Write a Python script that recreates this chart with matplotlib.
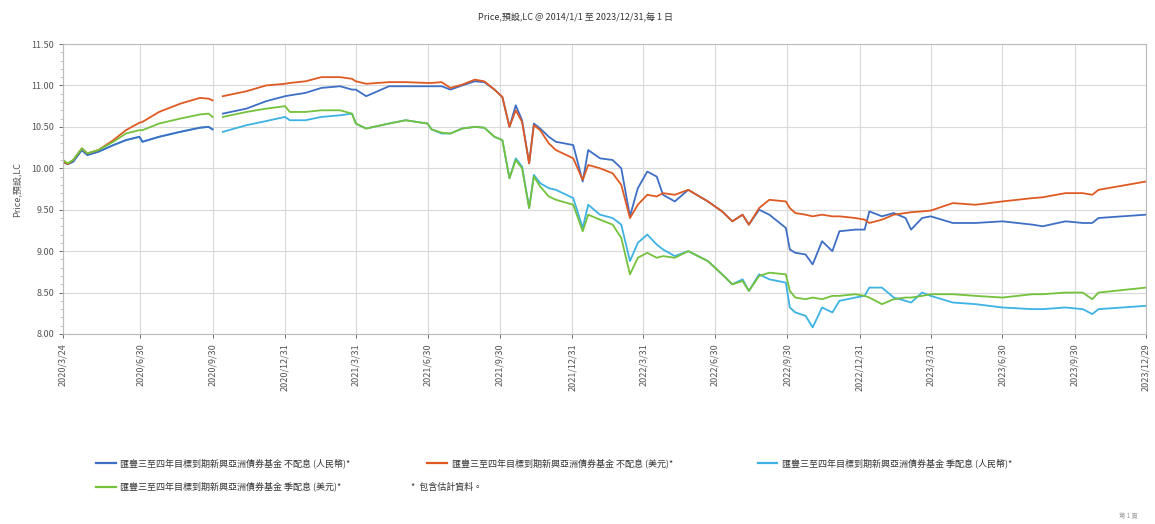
import pandas as pd
import numpy as np
import matplotlib
matplotlib.use('Agg')
import matplotlib.pyplot as plt
import matplotlib.ticker as ticker
from matplotlib.lines import Line2D

plt.rcParams['font.family'] = ['Noto Sans CJK TC', 'DejaVu Sans']

nan = np.nan

dates = pd.to_datetime([
    '2020-03-24', '2020-03-30', '2020-04-06', '2020-04-17', '2020-04-24', '2020-05-08',
    '2020-05-27', '2020-06-12', '2020-06-29', '2020-07-03', '2020-07-24', '2020-08-20',
    '2020-09-14', '2020-09-25', '2020-09-30', '2020-10-06', '2020-10-13', '2020-11-12',
    '2020-12-07', '2020-12-31', '2021-01-06', '2021-01-26', '2021-02-15', '2021-03-11',
    '2021-03-26', '2021-03-31', '2021-04-13', '2021-05-12', '2021-06-02', '2021-06-30',
    '2021-07-05', '2021-07-18', '2021-07-29', '2021-08-13', '2021-08-29', '2021-09-10',
    '2021-09-23', '2021-10-03', '2021-10-12', '2021-10-20', '2021-10-28', '2021-11-06',
    '2021-11-12', '2021-11-20', '2021-12-01', '2021-12-10', '2022-01-01', '2022-01-13',
    '2022-01-20', '2022-02-04', '2022-02-20', '2022-03-03', '2022-03-14', '2022-03-24',
    '2022-04-05', '2022-04-17', '2022-04-25', '2022-05-10', '2022-05-27', '2022-06-21',
    '2022-07-09', '2022-07-22', '2022-08-04', '2022-08-12', '2022-08-25', '2022-09-07',
    '2022-09-28', '2022-10-03', '2022-10-10', '2022-10-23', '2022-11-01', '2022-11-13',
    '2022-11-26', '2022-12-05', '2022-12-25', '2023-01-06', '2023-01-12', '2023-01-28',
    '2023-02-12', '2023-02-27', '2023-03-06', '2023-03-20', '2023-03-31', '2023-04-28',
    '2023-05-27', '2023-06-30', '2023-08-07', '2023-08-20', '2023-09-18', '2023-10-10',
    '2023-10-22', '2023-10-30', '2023-12-29',
])

# 不配息 (人民幣)
acc_cny = [
    10.08, 10.05, 10.08, 10.22, 10.16, 10.20, 10.28, 10.34, 10.38, 10.32, 10.38, 10.44,
    10.49, 10.50, 10.47, nan, 10.66, 10.72, 10.81, 10.87, 10.88, 10.91, 10.97, 10.99,
    10.95, 10.95, 10.87, 10.99, 10.99, 10.99, 10.99, 10.99, 10.95, 11.00, 11.05, 11.04,
    10.95, 10.86, 10.50, 10.76, 10.58, 10.06, 10.54, 10.48, 10.38, 10.32, 10.28, 9.84,
    10.22, 10.12, 10.10, 10.00, 9.42, 9.76, 9.96, 9.90, 9.68, 9.60, 9.74, 9.60,
    9.48, 9.36, 9.44, 9.32, 9.50, 9.44, 9.28, 9.02, 8.98, 8.96, 8.84, 9.12,
    9.00, 9.24, 9.26, 9.26, 9.48, 9.42, 9.46, 9.40, 9.26, 9.40, 9.42, 9.34,
    9.34, 9.36, 9.32, 9.30, 9.36, 9.34, 9.34, 9.40, 9.44,
]

# 不配息 (美元)
acc_usd = [
    10.08, 10.05, 10.10, 10.24, 10.18, 10.22, 10.34, 10.46, 10.55, 10.56, 10.68, 10.78,
    10.85, 10.84, 10.82, nan, 10.87, 10.93, 11.00, 11.02, 11.03, 11.05, 11.10, 11.10,
    11.08, 11.05, 11.02, 11.04, 11.04, 11.03, 11.03, 11.04, 10.97, 11.01, 11.07, 11.05,
    10.95, 10.86, 10.50, 10.70, 10.56, 10.06, 10.52, 10.46, 10.30, 10.22, 10.12, 9.86,
    10.04, 10.00, 9.94, 9.80, 9.40, 9.56, 9.68, 9.66, 9.70, 9.68, 9.74, 9.60,
    9.48, 9.36, 9.44, 9.32, 9.52, 9.62, 9.60, 9.52, 9.46, 9.44, 9.42, 9.44,
    9.42, 9.42, 9.40, 9.38, 9.34, 9.38, 9.44, 9.46, 9.47, 9.48, 9.49, 9.58,
    9.56, 9.60, 9.64, 9.65, 9.70, 9.70, 9.68, 9.74, 9.84,
]

# 季配息 (人民幣)
dis_cny = [
    10.08, 10.05, 10.08, 10.22, 10.16, 10.20, 10.28, 10.34, 10.38, 10.32, 10.38, 10.44,
    10.49, 10.50, 10.47, nan, 10.44, 10.52, 10.57, 10.62, 10.58, 10.58, 10.62, 10.64,
    10.66, 10.54, 10.48, 10.54, 10.58, 10.54, 10.47, 10.42, 10.42, 10.48, 10.50, 10.49,
    10.38, 10.34, 9.88, 10.12, 10.02, 9.52, 9.92, 9.82, 9.76, 9.74, 9.64, 9.28,
    9.56, 9.44, 9.40, 9.32, 8.88, 9.10, 9.20, 9.08, 9.02, 8.94, 9.00, 8.88,
    8.72, 8.60, 8.66, 8.52, 8.72, 8.66, 8.62, 8.32, 8.26, 8.22, 8.08, 8.32,
    8.26, 8.40, 8.44, 8.46, 8.56, 8.56, 8.44, 8.40, 8.38, 8.50, 8.46, 8.38,
    8.36, 8.32, 8.30, 8.30, 8.32, 8.30, 8.24, 8.30, 8.34,
]

# 季配息 (美元)
dis_usd = [
    10.10, 10.06, 10.10, 10.24, 10.18, 10.22, 10.32, 10.42, 10.46, 10.46, 10.54, 10.60,
    10.65, 10.66, 10.62, nan, 10.62, 10.68, 10.72, 10.75, 10.68, 10.68, 10.70, 10.70,
    10.66, 10.54, 10.48, 10.54, 10.58, 10.54, 10.47, 10.43, 10.42, 10.48, 10.50, 10.49,
    10.38, 10.34, 9.88, 10.10, 10.00, 9.52, 9.90, 9.78, 9.66, 9.62, 9.56, 9.24,
    9.44, 9.38, 9.32, 9.16, 8.72, 8.92, 8.98, 8.92, 8.94, 8.92, 9.00, 8.88,
    8.72, 8.60, 8.64, 8.52, 8.70, 8.74, 8.72, 8.52, 8.44, 8.42, 8.44, 8.42,
    8.46, 8.46, 8.48, 8.46, 8.44, 8.36, 8.42, 8.44, 8.44, 8.46, 8.48, 8.48,
    8.46, 8.44, 8.48, 8.48, 8.50, 8.50, 8.42, 8.50, 8.56,
]

fund = '匯豐三至四年目標到期新興亞洲債券基金'
labels = [fund + ' 不配息 (人民幣)*', fund + ' 不配息 (美元)*',
          fund + ' 季配息 (人民幣)*', fund + ' 季配息 (美元)*']
colors = ['#3E6FC4', '#DF5A22', '#3DB2E3', '#74C23C']

tick_dates = ['2020/3/24', '2020/6/30', '2020/9/30', '2020/12/31', '2021/3/31', '2021/6/30',
              '2021/9/30', '2021/12/31', '2022/3/31', '2022/6/30', '2022/9/30', '2022/12/31',
              '2023/3/31', '2023/6/30', '2023/9/30', '2023/12/29']

fig = plt.figure(figsize=(11.55, 5.24), dpi=100)
ax = fig.add_axes([0.0545, 0.3626, 0.9375, 0.5534])

# 人民幣季配息 drawn first so the 不配息 line sits on top where they overlap
for vals, c in [(dis_cny, colors[2]), (acc_cny, colors[0]), (acc_usd, colors[1]), (dis_usd, colors[3])]:
    ax.plot(dates, vals, color=c, lw=1.3)

ax.set_ylim(8.0, 11.5)
ax.set_xlim(pd.Timestamp('2020-03-24'), pd.Timestamp('2023-12-29'))
ax.yaxis.set_major_locator(ticker.MultipleLocator(0.5))
ax.yaxis.set_minor_locator(ticker.MultipleLocator(0.1))
ax.yaxis.set_major_formatter(ticker.FormatStrFormatter('%.2f'))
ticks = pd.to_datetime(tick_dates, format='%Y/%m/%d')
ax.set_xticks(ticks)
ax.set_xticklabels(tick_dates, rotation=90)
ax.tick_params(axis='both', labelsize=6.5, colors='#555555', length=3, width=0.6)
ax.tick_params(axis='y', which='minor', length=2, width=0.5, colors='#aaaaaa')
ax.grid(True, color='#d9d9d9', lw=0.8)
for s in ax.spines.values():
    s.set_color('#bbbbbb')
    s.set_linewidth(0.8)
ax.set_ylabel('Price,預設,LC', fontsize=6.5, color='#555555', labelpad=6)

fig.text(0.498, 0.967, 'Price,預設,LC @ 2014/1/1 至 2023/12/31,每 1 日',
         ha='center', va='center', fontsize=6.5, color='#333333')

# legend rows
legend_items = [
    (0.083, 0.116, labels[0], colors[0]),
    (0.370, 0.116, labels[1], colors[1]),
    (0.656, 0.116, labels[2], colors[2]),
    (0.083, 0.071, labels[3], colors[3]),
]
for lx, ly, txt, c in legend_items:
    fig.add_artist(Line2D([lx, lx + 0.017], [ly, ly], color=c, lw=1.6, transform=fig.transFigure))
    fig.text(lx + 0.021, ly, txt, ha='left', va='center', fontsize=6.5, color='#333333')
fig.text(0.356, 0.071, '*  包含估計資料。', ha='left', va='center', fontsize=6.5, color='#333333')
fig.text(0.985, 0.015, '第 1 頁', ha='right', va='center', fontsize=4.5, color='#999999')

fig.savefig('out.png', dpi=100)
